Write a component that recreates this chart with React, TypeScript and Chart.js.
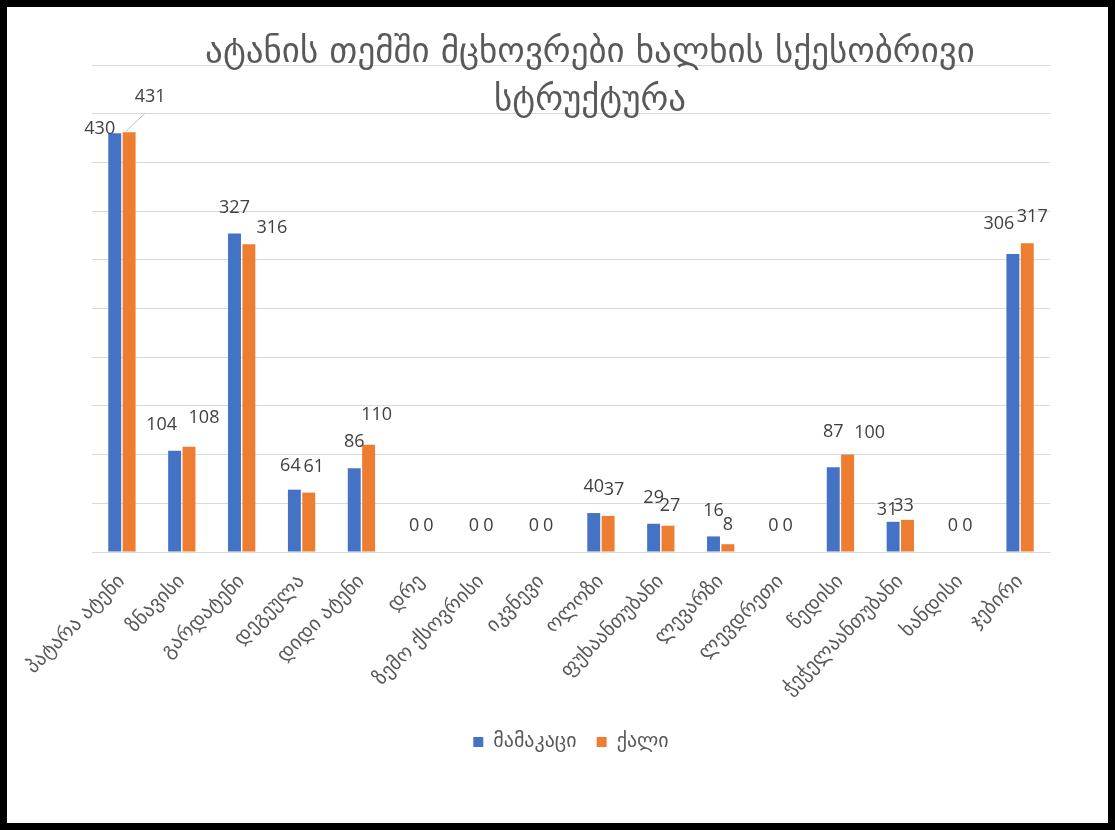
import React, { useEffect, useRef } from "react";
import { Chart, registerables } from "chart.js";

Chart.register(...registerables);

const categories = [
  "პატარა ატენი",
  "ზნავისი",
  "გარდატენი",
  "დეგეულა",
  "დიდი ატენი",
  "დრე",
  "ზემო ქსოვრისი",
  "იკვნევი",
  "ოლოზი",
  "ფუხაანთუბანი",
  "ლევარზი",
  "ლევდრეთი",
  "წედისი",
  "ჭეჭელაანთუბანი",
  "ხანდისი",
  "ჯებირი",
];
const menValues = [430, 104, 327, 64, 86, 0, 0, 0, 40, 29, 16, 0, 87, 31, 0, 306];
const womenValues = [431, 108, 316, 61, 110, 0, 0, 0, 37, 27, 8, 0, 100, 33, 0, 317];
const seriesNames = ["მამაკაცი", "ქალი"];
const titleLines = ["ატანის თემში მცხოვრები ხალხის სქესობრივი", "სტრუქტურა"];
const yMax = 500;
const yStep = 50;

const COLORS = ["#4472C4", "#ED7D31"];
const FONT = "'Open Sans', 'DejaVu Sans', sans-serif";
const GEO_FONT = "'DejaVu Sans', 'Open Sans', sans-serif";

// label nudges (dx, dy) per [series][index] where Excel moved the labels
const labelNudges: Record<string, [number, number]> = {
  "0-0": [-15, 22],
  "1-0": [21, -9],
  "0-1": [-13, 0],
  "1-1": [15, -3],
  "1-2": [23, 10],
  "0-3": [-4, 2],
  "1-3": [5, 0],
  "1-4": [8, -4],
  "1-8": [6, 0],
  "1-9": [2, 6],
  "1-10": [0, 7],
  "0-12": [0, -9],
  "1-12": [22, 4],
  "0-13": [-6, 14],
  "1-13": [-4, 12],
  "0-15": [-14, -4],
  "1-15": [5, 0],
};

const titlePlugin = {
  id: "overlayTitle",
  afterDraw(chart: any) {
    const { ctx, chartArea } = chart;
    ctx.save();
    ctx.fillStyle = "#595959";
    ctx.font = `35px ${GEO_FONT}`;
    ctx.textAlign = "center";
    ctx.textBaseline = "middle";
    const cx = (chartArea.left + chartArea.right) / 2 + 19;
    ctx.fillText(titleLines[0], cx, 46);
    ctx.fillText(titleLines[1], cx, 94);
    ctx.restore();
  },
};

const valueLabelPlugin = {
  id: "valueLabels",
  afterDatasetsDraw(chart: any) {
    const { ctx } = chart;
    ctx.save();
    ctx.font = `18px ${FONT}`;
    ctx.fillStyle = "#404040";
    ctx.textAlign = "center";
    ctx.textBaseline = "middle";
    chart.data.datasets.forEach((ds: any, di: number) => {
      const meta = chart.getDatasetMeta(di);
      meta.data.forEach((bar: any, i: number) => {
        const nudge = labelNudges[`${di}-${i}`] || [0, 0];
        const x = bar.x + nudge[0];
        const y = bar.y - 26 + nudge[1];
        ctx.fillText(String(ds.data[i]), x, y);
        if (di === 1 && i === 0) {
          ctx.strokeStyle = "#bfbfbf";
          ctx.lineWidth = 1;
          ctx.beginPath();
          ctx.moveTo(bar.x - 3, bar.y - 1);
          ctx.lineTo(x - 5, y + 16);
          ctx.stroke();
        }
      });
    });
    ctx.restore();
  },
};

export default function App() {
  const canvasRef = useRef<HTMLCanvasElement | null>(null);

  useEffect(() => {
    if (!canvasRef.current) return;
    const chart = new Chart(canvasRef.current, {
      type: "bar",
      data: {
        labels: categories,
        datasets: [
          {
            label: seriesNames[0],
            data: menValues,
            backgroundColor: COLORS[0],
            categoryPercentage: 0.48,
            barPercentage: 0.9,
          },
          {
            label: seriesNames[1],
            data: womenValues,
            backgroundColor: COLORS[1],
            categoryPercentage: 0.48,
            barPercentage: 0.9,
          },
        ],
      },
      options: {
        animation: false,
        responsive: false,
        maintainAspectRatio: false,
        layout: { padding: { top: 58, left: 85, right: 58, bottom: 61 } },
        plugins: {
          title: { display: false },
          tooltip: { enabled: false },
          legend: {
            position: "bottom",
            labels: {
              boxWidth: 10,
              boxHeight: 10,
              padding: 20,
              color: "#595959",
              font: { size: 20, family: GEO_FONT },
            },
          },
        },
        scales: {
          x: {
            grid: { display: false },
            border: { display: true, color: "#d9d9d9" },
            ticks: {
              color: "#595959",
              font: { size: 20, family: GEO_FONT },
              minRotation: 45,
              maxRotation: 45,
              autoSkip: false,
              padding: 10,
            },
            afterFit: (scale: any) => {
              scale.height = 160;
            },
          },
          y: {
            min: 0,
            max: yMax,
            ticks: { display: false, stepSize: yStep },
            grid: { color: "#d9d9d9", drawTicks: false },
            border: { display: false },
            afterFit: (scale: any) => {
              scale.width = 0;
            },
          },
        },
      },
      plugins: [titlePlugin, valueLabelPlugin],
    });
    return () => chart.destroy();
  }, []);

  return (
    <div
      style={{
        position: "absolute",
        left: 0,
        top: 0,
        width: 1115,
        height: 830,
        boxSizing: "border-box",
        border: "7px solid #000",
        background: "#fff",
      }}
    >
      <canvas ref={canvasRef} width={1101} height={816} style={{ display: "block" }} />
    </div>
  );
}
